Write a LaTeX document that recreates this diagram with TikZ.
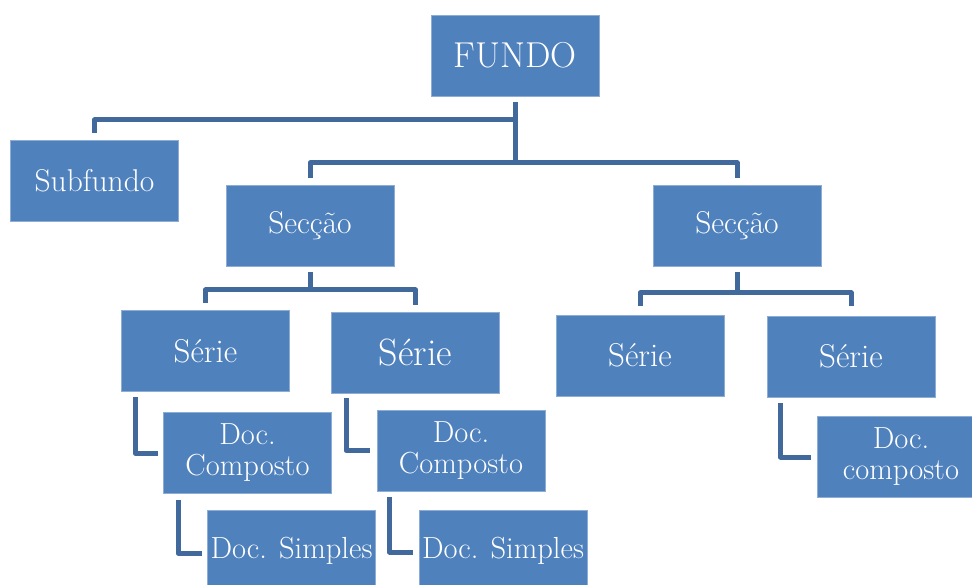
\documentclass[tikz,border=0pt]{standalone}
\usetikzlibrary{calc}
\definecolor{boxfill}{HTML}{4F81BD}
\definecolor{connline}{HTML}{41699B}
\begin{document}
\begin{tikzpicture}[x=1pt,y=-1pt,
  box/.style={rectangle, fill=boxfill, draw=boxfill!65!white, line width=0.8pt,
    minimum width=168pt, minimum height=81pt, inner sep=0pt,
    text=white, align=center, font=\fontsize{30.5}{31}\selectfont},
  conn/.style={draw=connline, line width=5pt, line join=round}]
\useasboundingbox (0,0) rectangle (972,585);
\clip (0,0) rectangle (972,585);

% top level
\node[box, font=\fontsize{36}{40}\selectfont] (fundo) at (515,55.5) {FUNDO};
\node[box, font=\fontsize{31.5}{36}\selectfont] (subfundo) at (94.5,180.5) {Subfundo};

% sections
\node[box, font=\fontsize{31.5}{36}\selectfont] (secA) at (310,225.5) {Secção};
\node[box, font=\fontsize{31.5}{36}\selectfont] (secB) at (737,225.5) {Secção};

% series
\node[box, font=\fontsize{33}{36}\selectfont] (serA) at (205.5,351) {Série};
\node[box, font=\fontsize{38}{42}\selectfont] (serB) at (415.5,352.5) {Série};
\node[box, font=\fontsize{33}{36}\selectfont] (serC) at (640,355.5) {Série};
\node[box, font=\fontsize{33}{36}\selectfont] (serD) at (851,356.5) {Série};

% composite documents
\node[box] (dcA) at (247.5,453) {Doc.\\Composto};
\node[box] (dcB) at (461,450.5) {Doc.\\Composto};
\node[box] (dcC) at (901,457) {Doc.\\composto};

% simple documents
\node[box] (dsA) at (291.5,550.5) {Doc. Simples};
\node[box] (dsB) at (503,550.5) {Doc. Simples};

% bus lines below FUNDO
\coordinate (busTop) at (515,120);
\coordinate (busMid) at (515,163);
\draw[conn] ([yshift=-6pt]fundo.south) -- (busMid);
\draw[conn] (busTop) -| ([yshift=7pt]subfundo.north);
\draw[conn] ([yshift=7pt]secA.north) -- (secA.north |- busMid)
  -- (secB.north |- busMid) -- ([yshift=7pt]secB.north);

% section to series
\coordinate (busA) at (310,290);
\coordinate (busB) at (737,293);
\draw[conn] ([yshift=-6pt]secA.south) -- (busA);
\draw[conn] ([yshift=7pt]serA.north) -- (serA.north |- busA)
  -- (serB.north |- busA) -- ([yshift=7pt]serB.north);
\draw[conn] ([yshift=-6pt]secB.south) -- (busB);
\draw[conn] ([yshift=9pt]serC.north) -- (serC.north |- busB)
  -- (serD.north |- busB) -- ([yshift=10pt]serD.north);

% elbows down to documents
\draw[conn] ([xshift=14pt,yshift=-5pt]serA.south west) |- ([xshift=-5pt]dcA.west);
\draw[conn] ([xshift=15pt,yshift=-5pt]serB.south west) |- ([xshift=-7pt]dcB.west);
\draw[conn] ([xshift=14pt,yshift=-6pt]serD.south west) |- ([xshift=-6pt]dcC.west);
\draw[conn] ([xshift=15pt,yshift=-6pt]dcA.south west) |- ([xshift=-5pt,yshift=-2.5pt]dsA.west);
\draw[conn] ([xshift=13pt,yshift=-6pt]dcB.south west) |- ([xshift=-6pt,yshift=-1.5pt]dsB.west);
\end{tikzpicture}
\end{document}
